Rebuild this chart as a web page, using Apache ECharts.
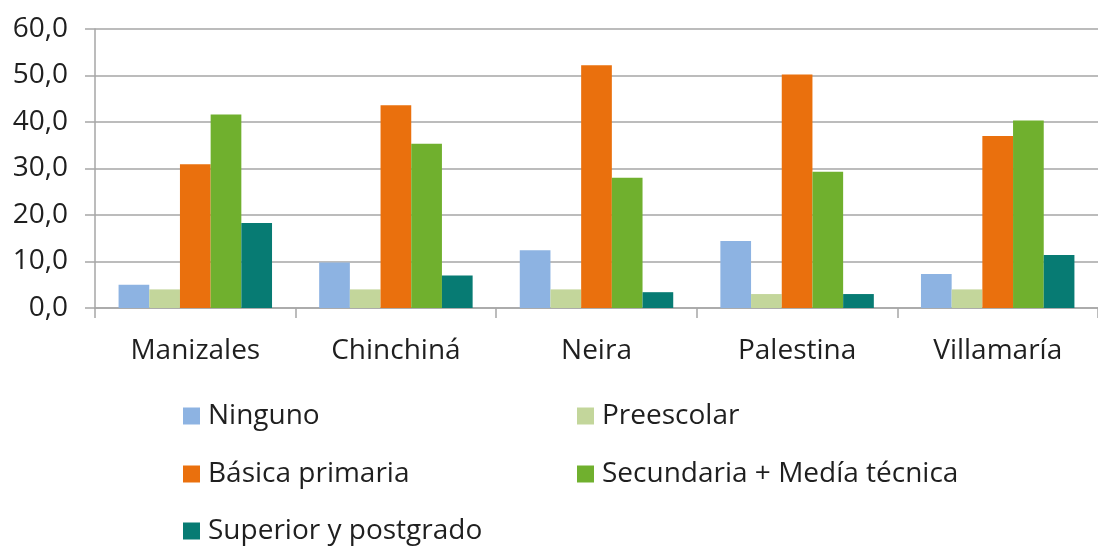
<!DOCTYPE html>
<html>
<head>
<meta charset="utf-8">
<script src="https://cdn.jsdelivr.net/npm/echarts@6/dist/echarts.min.js"></script>
<style>
  html, body { margin: 0; padding: 0; background: #ffffff; }
  #chart { width: 1098px; height: 548px; }
</style>
</head>
<body>
<div id="chart"></div>
<script>
// Municipalities on the category axis
const municipios = ['Manizales', 'Chinchiná', 'Neira', 'Palestina', 'Villamaría'];

// Education level shares (%) per municipality
const ninguno     = [5.0, 9.8, 12.4, 14.4, 7.3];
const preescolar  = [4.0, 4.0, 4.0, 3.0, 4.0];
const basica      = [30.9, 43.6, 52.2, 50.2, 37.0];
const secundaria  = [41.6, 35.3, 28.0, 29.3, 40.3];
const superior    = [18.3, 7.0, 3.4, 3.0, 11.4];

const seriesNames = ['Ninguno', 'Preescolar', 'Básica primaria', 'Secundaria + Medía técnica', 'Superior y postgrado'];
const seriesData = [ninguno, preescolar, basica, secundaria, superior];
const colors = ['#8DB3E2', '#C3D69B', '#EA700D', '#70B02E', '#077B73'];

const FONT = 'Open Sans';
const FONT_SIZE = 28;
const TEXT_COLOR = '#1f1f1f';
const LINE_COLOR = '#A6A6A6';

// Legend laid out in two columns, one component per entry
const legendSlots = [
  { left: 183, top: 417 },
  { left: 577, top: 417 },
  { left: 183, top: 475 },
  { left: 577, top: 475 },
  { left: 183, top: 532 }
];

const legends = seriesNames.map((name, i) => ({
  data: [name],
  left: legendSlots[i].left,
  top: legendSlots[i].top - 15,
  itemWidth: 17,
  itemHeight: 17,
  icon: 'rect',
  selectedMode: false,
  padding: 0,
  textStyle: {
    fontFamily: FONT,
    fontSize: FONT_SIZE,
    color: TEXT_COLOR,
    padding: [0, 0, 0, 3]
  }
}));

const chart = echarts.init(document.getElementById('chart'), null, { renderer: 'canvas' });

chart.setOption({
  animation: false,
  color: colors,
  legend: legends,
  grid: {
    left: 95,
    top: 29,
    width: 1012,
    height: 279,
    containLabel: false
  },
  xAxis: {
    type: 'category',
    data: municipios,
    axisLine: { show: true, lineStyle: { color: LINE_COLOR, width: 1.5 } },
    axisTick: { show: true, length: 10, lineStyle: { color: LINE_COLOR, width: 1.5 } },
    axisLabel: {
      fontFamily: FONT,
      fontSize: FONT_SIZE,
      color: TEXT_COLOR,
      margin: 29
    },
    splitLine: { show: false }
  },
  yAxis: {
    type: 'value',
    min: 0,
    max: 60,
    interval: 10,
    axisLine: { show: true, lineStyle: { color: LINE_COLOR, width: 1.5 } },
    axisTick: { show: true, length: 10, lineStyle: { color: LINE_COLOR, width: 1.5 } },
    axisLabel: {
      fontFamily: FONT,
      fontSize: FONT_SIZE,
      color: TEXT_COLOR,
      margin: 27,
      formatter: v => v.toFixed(1).replace('.', ',')
    },
    splitLine: { show: true, lineStyle: { color: LINE_COLOR, width: 1.5 } }
  },
  series: seriesNames.map((name, i) => ({
    name: name,
    type: 'bar',
    data: seriesData[i],
    barGap: '0%',
    barCategoryGap: '23.5%',
    itemStyle: {
      color: colors[i]
    }
  }))
});
</script>
</body>
</html>
